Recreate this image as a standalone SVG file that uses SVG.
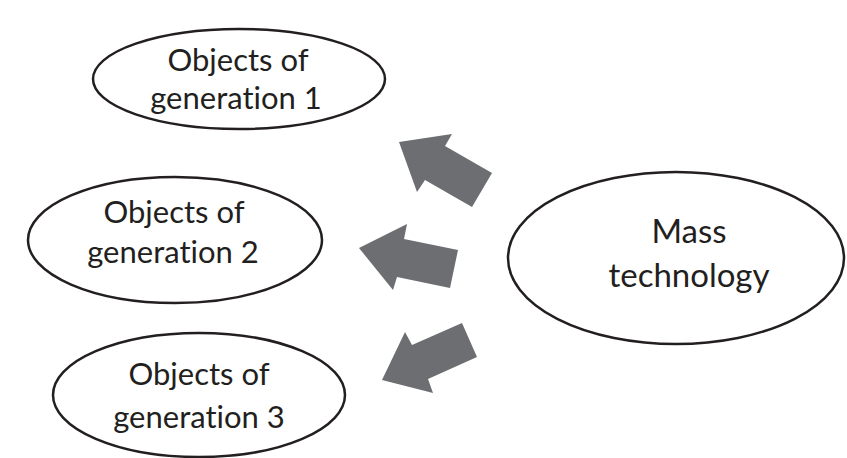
<svg xmlns="http://www.w3.org/2000/svg" width="847" height="458" viewBox="0 0 847 458">
<style>
.node ellipse{fill:#fff;stroke:#231f20;stroke-width:2.5}
.node text{font-family:Lato,"Liberation Sans",sans-serif;font-size:31px;fill:#231f20;text-anchor:middle;font-variant-ligatures:none;font-feature-settings:"liga" 0}
.node text.big{font-size:33px}
.arrow{fill:#6d6e71;stroke:none}
</style>
<rect width="847" height="458" fill="#fff"/>
<g id="gen1" class="node">
<ellipse cx="239" cy="79" rx="146" ry="50"/>
<text x="238" y="71">Objects of</text>
<text x="236" y="109">generation 1</text>
</g>
<g id="gen2" class="node">
<ellipse cx="175" cy="240" rx="147" ry="63"/>
<text x="174" y="223">Objects of</text>
<text x="173" y="263">generation 2</text>
</g>
<g id="gen3" class="node">
<ellipse cx="199" cy="395" rx="146" ry="62"/>
<text x="199" y="385">Objects of</text>
<text x="199" y="428">generation 3</text>
</g>
<g id="mass" class="node">
<ellipse cx="676" cy="258" rx="168" ry="86"/>
<text class="big" x="689" y="243">Mass</text>
<text class="big" x="689" y="287">technology</text>
</g>
<g id="connectors">
<polygon class="arrow" points="399,142 452,134 445,146 492,173 472,207 425,180 417,192"/>
<polygon class="arrow" points="359,248 407,224 404,239 458,250 450,288 397,277 393,290"/>
<polygon class="arrow" points="382,380 405,332 412,345 462,323 477,357 428,379 433,393"/>
</g>
</svg>
